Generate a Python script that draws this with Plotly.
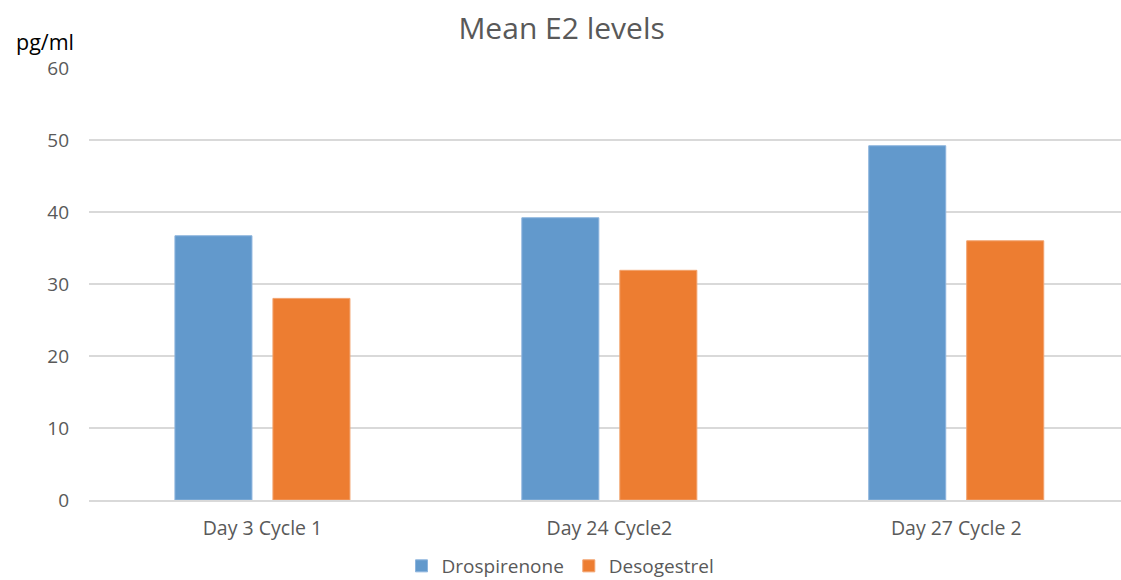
import plotly.graph_objects as go

categories = ["Day 3 Cycle 1", "Day 24 Cycle2", "Day 27 Cycle 2"]
drospirenone = [36.7, 39.2, 49.2]
desogestrel = [28.0, 31.9, 36.0]
y_ticks = [0, 10, 20, 30, 40, 50, 60]

fig = go.Figure()
fig.add_trace(go.Bar(name="Drospirenone", x=categories, y=drospirenone,
                     marker=dict(color="#6299CC", line=dict(color="#8DB4DD", width=1))))
fig.add_trace(go.Bar(name="Desogestrel", x=categories, y=desogestrel,
                     marker=dict(color="#ED7D31", line=dict(color="#F2A36E", width=1))))

fig.update_layout(
    width=1121, height=580,
    margin=dict(l=89, r=0, t=68, b=80),
    paper_bgcolor="white", plot_bgcolor="white",
    barmode="group", bargap=0.435, bargroupgap=0.214,
    font=dict(family="Open Sans, Lato, sans-serif", color="#595959"),
    title=dict(text="Mean E2 levels", x=0.501, xref="container", xanchor="center",
               y=1 - 28 / 580, yref="container", yanchor="middle",
               font=dict(size=30, color="#595959")),
    showlegend=True,
    legend=dict(orientation="h", x=0.5, xref="container", xanchor="center",
                y=1 - 566 / 580, yref="container", yanchor="middle",
                font=dict(size=19, color="#595959"), traceorder="normal"),
    xaxis=dict(type="category", range=[-0.5, 2.475], showgrid=False,
               showline=True, linecolor="#D9D9D9", linewidth=1.5,
               ticks="", ticklabelstandoff=10,
               tickfont=dict(size=19.5, color="#595959")),
    yaxis=dict(range=[0, 60], tickvals=y_ticks, showgrid=True,
               gridcolor="#D9D9D9", gridwidth=1.5, zeroline=False,
               showline=False, ticks="", ticklabelstandoff=19,
               tickfont=dict(size=19, color="#595959")),
)
fig.add_annotation(text="pg/ml", xref="paper", yref="paper", x=(14 - 89) / 1032,
                   y=(500 - 41) / 432, xanchor="left", yanchor="middle", showarrow=False,
                   font=dict(size=21.5, color="#000000"))

fig.write_html("out.html", config={"displayModeBar": False},
               post_script="document.body.style.margin='0';")
